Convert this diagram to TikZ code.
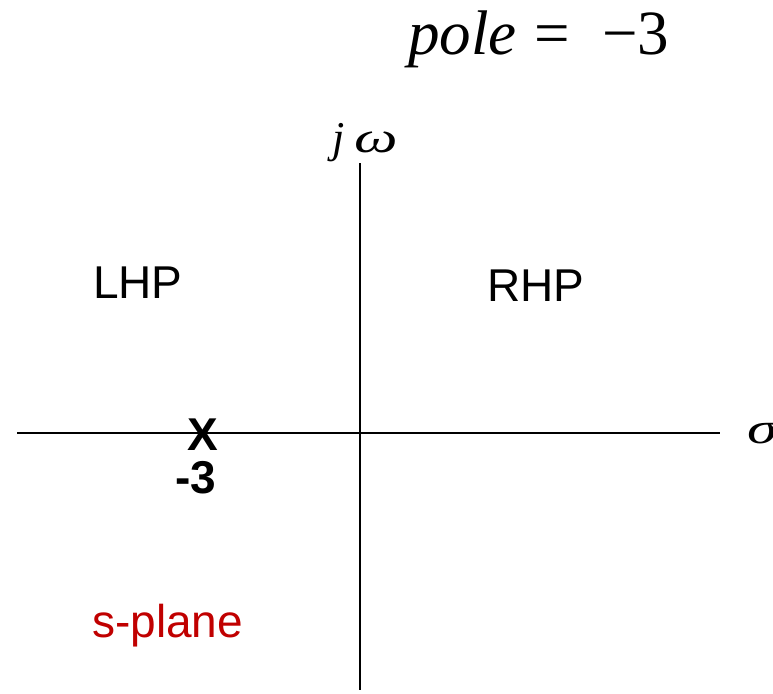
\documentclass[tikz,border=0pt]{standalone}
\usepackage{fontspec}
\setmainfont{Liberation Serif}
\newfontfamily\arialf{Liberation Sans}
\definecolor{splanered}{HTML}{C00000}
\begin{document}
\begin{tikzpicture}[x=1pt,y=-1pt,
  axis/.style={line width=2pt,black},
  region/.style={font=\fontsize{46}{50}\selectfont\arialf,inner sep=0pt,anchor=base west},
  mathlbl/.style={font=\fontsize{44}{48}\selectfont,inner sep=0pt},
  polemark/.style={font=\fontsize{46}{50}\selectfont\arialf\bfseries,inner sep=0pt,anchor=base}]
\useasboundingbox (0,0) rectangle (773,693);
\coordinate (xl) at (17,433);
\coordinate (xr) at (720,433);
\coordinate (yt) at (360,163);
\coordinate (yb) at (360,690);
\draw[axis] (xl) -- (xr);
\draw[axis] (yt) -- (yb);
\node[font=\fontsize{63}{66}\selectfont,inner sep=0pt,anchor=base west] (title) at (408,55) {\itshape pole\/\upshape\hspace{18pt}=\hspace{32pt}−3};
\node[mathlbl,anchor=base west] (jw) at (332,152) {\itshape j\hspace{10pt}\scalebox{1.4}[1]{ω}};
\node[mathlbl,anchor=base west] (sigma) at (747,443) {\itshape \scalebox{1.4}[1]{σ}};
\node[region] (lhp) at (93,298) {LHP};
\node[region] (rhp) at (487,301) {RHP};
\node[region,text=splanered] (sp) at (92,637) {s-plane};
\node[polemark] (x) at (203,450) {X};
\node[polemark] (m3) at (196,493) {-3};
\end{tikzpicture}
\end{document}
